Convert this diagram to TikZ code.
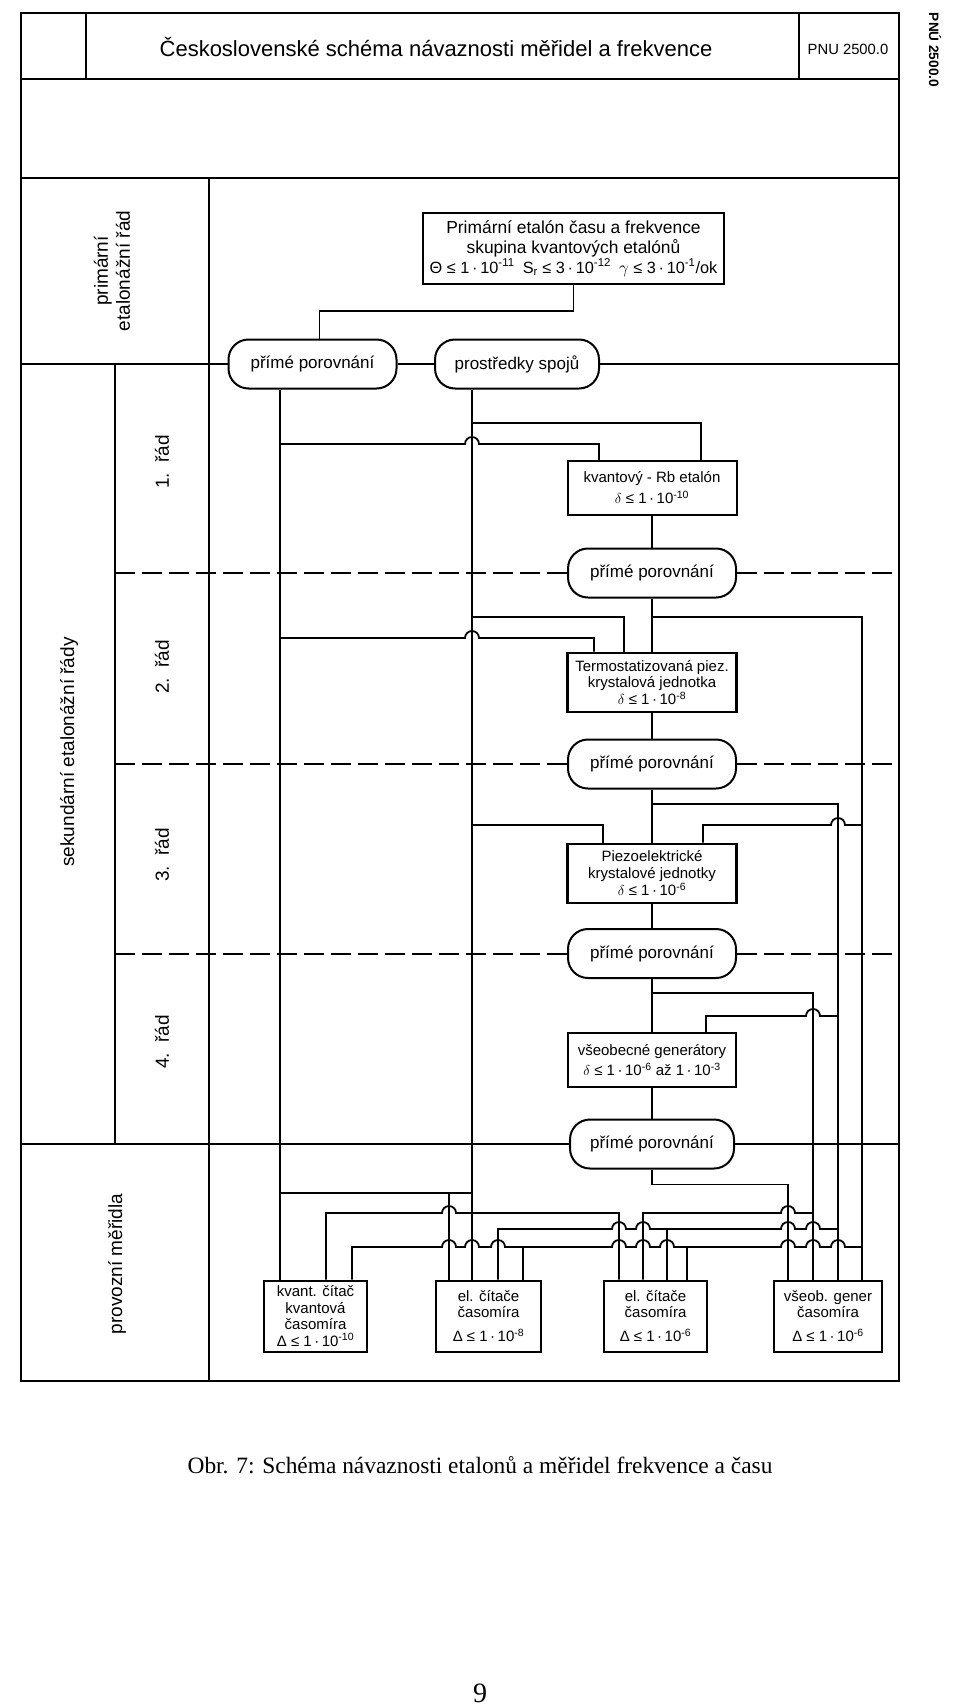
\documentclass[tikz,border=0pt]{standalone}
\usepackage{fontspec}
\setmainfont{Liberation Sans}
\newfontfamily\patkove{Liberation Serif}
\usepackage{tikz}

\newcommand{\dese}[1]{10\textsuperscript{#1}}
\newcommand{\skok}{arc[start angle=180,end angle=0,radius=7pt]}
\newcommand{\skokzpet}{arc[start angle=0,end angle=180,radius=7pt]}

\tikzset{
  ram/.style={line width=2.4pt},
  spoj/.style={line width=1.8pt},
  carky/.style={line width=2pt, dash pattern=on 20pt off 7pt},
  etalon/.style={draw, line width=2pt, fill=white, align=center, inner sep=0pt,
    minimum width=169pt, font=\fontsize{15}{17}\selectfont},
  porovnani/.style={draw, line width=2pt, rounded corners=20pt, fill=white,
    minimum width=168pt, minimum height=49pt, inner sep=0pt,
    font=\fontsize{17}{20}\selectfont},
  meridlo/.style={draw, line width=2pt, align=center, inner sep=0pt,
    minimum height=71pt, font=\fontsize{15}{16.5}\selectfont},
  rad/.style={rotate=90, align=center, font=\fontsize{19}{22}\selectfont},
}

\begin{document}
\begin{tikzpicture}[x=1pt,y=-1pt]
\useasboundingbox (0,0) rectangle (960,1705);

% etalony
\node[etalon, line width=2.4pt, minimum width=301pt, minimum height=71pt,
  font=\fontsize{17.4}{20}\selectfont] (prim) at (573.5,248.5)
  {Primární etalón času a frekvence\\skupina kvantových etalónů\\
   {\fontsize{16.3}{20}\selectfont Θ ≤ 1\,·\,\dese{-11}\enspace S\textsubscript{r} ≤ 3\,·\,\dese{-12}\enspace
   $\gamma$ ≤ 3\,·\,\dese{-1}/ok}};
\node[porovnani] (pp0) at (312.5,364) {přímé porovnání};
\node[porovnani, minimum width=164pt] (spojeni) at (517,364) {prostředky spojů};
\node[etalon, minimum height=54pt, font=\fontsize{15}{21}\selectfont] (rb) at (652,488)
  {kvantový - Rb etalón\\$\delta$ ≤ 1\,·\,\dese{-10}};
\node[porovnani] (pp1) at (652,573) {přímé porovnání};
\node[etalon, line width=2.6pt, minimum height=59pt, font=\fontsize{15}{16.5}\selectfont]
  (termo) at (652,682.5) {Termostatizovaná piez.\\krystalová jednotka\\$\delta$ ≤ 1\,·\,\dese{-8}};
\node[porovnani] (pp2) at (652,764) {přímé porovnání};
\node[etalon, line width=2.6pt, minimum height=59pt, font=\fontsize{15}{17}\selectfont]
  (piezo) at (652,873.5) {Piezoelektrické\\krystalové jednotky\\$\delta$ ≤ 1\,·\,\dese{-6}};
\node[porovnani] (pp3) at (652,953.5) {přímé porovnání};
\node[etalon, minimum width=168pt, minimum height=54pt, font=\fontsize{15}{20}\selectfont]
  (gen) at (652,1060) {všeobecné generátory\\$\delta$ ≤ 1\,·\,\dese{-6} až 1\,·\,\dese{-3}};
\node[porovnani, minimum width=164pt] (pp4) at (652,1144) {přímé porovnání};

% provozni meridla
\node[meridlo, minimum width=103pt] (m1) at (315.5,1316)
  {kvant. čítač\\kvantová\\časomíra\\Δ ≤ 1\,·\,\dese{-10}};
\node[meridlo, minimum width=105pt] (m2) at (488.5,1316)
  {el. čítače\\časomíra\\[7pt]Δ ≤ 1\,·\,\dese{-8}};
\node[meridlo, minimum width=103pt] (m3) at (655.5,1316)
  {el. čítače\\časomíra\\[7pt]Δ ≤ 1\,·\,\dese{-6}};
\node[meridlo, minimum width=108pt] (m4) at (828,1316)
  {všeob. gener\\časomíra\\[7pt]Δ ≤ 1\,·\,\dese{-6}};

% ramecek
\draw[ram] (21,13) rectangle (899,1381);
\draw[ram] (21,79) -- (899,79) (86,13) -- (86,79) (799,13) -- (799,79)
  (21,178) -- (899,178) (209,178) -- (209,1381) (115,364) -- (115,1144);
\draw[ram] (21,364) -- (pp0.west) (pp0.east) -- (spojeni.west) (spojeni.east) -- (899,364);
\draw[ram] (21,1144) -- (pp4.west) (pp4.east) -- (899,1144);
\foreach \p in {pp1,pp2,pp3} {
  \draw[carky] (115,0 |- \p.west) -- (\p.west);
  \draw[carky] (\p.east) -- (899,0 |- \p.east);
}

% popisy
\node[anchor=base, font=\fontsize{22}{26}\selectfont] (titul) at (436,56)
  {Československé schéma návaznosti měřidel a frekvence};
\node[anchor=base, font=\fontsize{14.8}{17}\selectfont] (pnu) at (848,54) {PNU 2500.0};
\node[rotate=-90, font=\bfseries\fontsize{13.6}{16}\selectfont] (okraj) at (935,50) {PNÚ 2500.0};
\node[rad] (primrad) at (112,271) {primární\\etalonážní řád};
\node[rad] (sekrad) at (69,752) {sekundární etalonážní řády};
\foreach \n/\y in {1/462,2/667,3/855,4/1042}
  \node[rad] (rad\n) at (162,\y) {\n.\ \ řád};
\node[rad] (provoz) at (117,1264) {provozní měřidla};
\node[anchor=base, font=\patkove\fontsize{23.4}{28}\selectfont] (obr) at (480,1473)
  {Obr. 7: Schéma návaznosti etalonů a měřidel frekvence a času};
\node[anchor=base, font=\patkove\fontsize{28}{32}\selectfont] (strana) at (480,1702) {9};

% body vetveni
\coordinate (a1) at (280,444);
\coordinate (a2) at (280,638);
\coordinate (b1) at (472,423);
\coordinate (b2) at (472,617);
\coordinate (b3) at (472,825);
\coordinate (c1) at (652,617);
\coordinate (c3) at (862,825);
\coordinate (c5) at (862,1247);
\coordinate (d1) at (652,804);
\coordinate (d4) at (838,1016);
\coordinate (d5) at (838,1229);
\coordinate (e1) at (652,993);
\coordinate (e5) at (813,1213);
\coordinate (k1) at (280,1193);
\coordinate (k2) at (472,1193);
\coordinate (k3) at (449,1193);
\coordinate (t1) at (667,1229);
\coordinate (t2) at (687,1247);
\coordinate (t3) at (523,1247);

% spoje
\foreach \a/\b in {rb/pp1,pp1/termo,termo/pp2,pp2/piezo,piezo/pp3,pp3/gen,gen/pp4}
  \draw[spoj] (\a.south) -- (\b.north);
\draw[spoj] (prim.south) -- ++(0,26) -| ([xshift=7pt]pp0.north);
\draw[spoj] ([xshift=-32.5pt]pp0.south) -- ([xshift=-35.5pt]m1.north);
\draw[spoj] ([xshift=-45pt]spojeni.south) -- ([xshift=-16.5pt]m2.north);

% 1. rad
\draw[spoj] (b1) -| ([xshift=49pt]rb.north);
\draw[spoj] (a1) -- ++(185,0) \skok -| ([xshift=-53pt]rb.north);
% 2. rad
\draw[spoj] (b2) -| ([xshift=-28pt]termo.north);
\draw[spoj] (a2) -- ++(185,0) \skok -| ([xshift=-58pt]termo.north);
\draw[spoj] (c1) -| ([xshift=34pt]m4.north);
% 3. rad
\draw[spoj] (d1) -| ([xshift=10pt]m4.north);
\draw[spoj] (b3) -| ([xshift=-49pt]piezo.north);
\draw[spoj] (c3) -- ++(-17,0) \skokzpet -| ([xshift=51pt]piezo.north);
% 4. rad
\draw[spoj] (e1) -| ([xshift=-15pt]m4.north);
\draw[spoj] (d4) -- ++(-18,0) \skokzpet -| ([xshift=54pt]gen.north);

% provozni meridla
\draw[spoj] (pp4.south) -- ++(0,15) -| ([xshift=-40pt]m4.north);
\draw[spoj] (k1) -- (k2);
\draw[spoj] (k3) -- ([xshift=-39.5pt]m2.north);
\draw[spoj] ([xshift=10.5pt]m1.north) |- (442,1213) \skok -| ([xshift=-36.5pt]m3.north);
\draw[spoj] (e5) -- ++(-18,0) \skokzpet -| ([xshift=-12.5pt]m3.north);
\draw[spoj] (d5) -- ++(-18,0) \skokzpet -- ++(-11,0) \skokzpet
  -- ++(-131,0) \skokzpet -- ++(-10,0) \skokzpet -| ([xshift=9.5pt]m2.north);
\draw[spoj] (t1) -- ([xshift=11.5pt]m3.north);
\draw[spoj] (c5) -- ++(-17,0) \skokzpet -- ++(-11,0) \skokzpet -- ++(-11,0) \skokzpet
  -- ++(-107,0) \skokzpet -- ++(-10,0) \skokzpet -- ++(-10,0) \skokzpet
  -- ++(-107,0) \skokzpet -- ++(-12,0) \skokzpet -- ++(-9,0) \skokzpet
  -| ([xshift=36.5pt]m1.north);
\draw[spoj] (t2) -- ([xshift=31.5pt]m3.north);
\draw[spoj] (t3) -- ([xshift=34.5pt]m2.north);

\end{tikzpicture}
\end{document}
